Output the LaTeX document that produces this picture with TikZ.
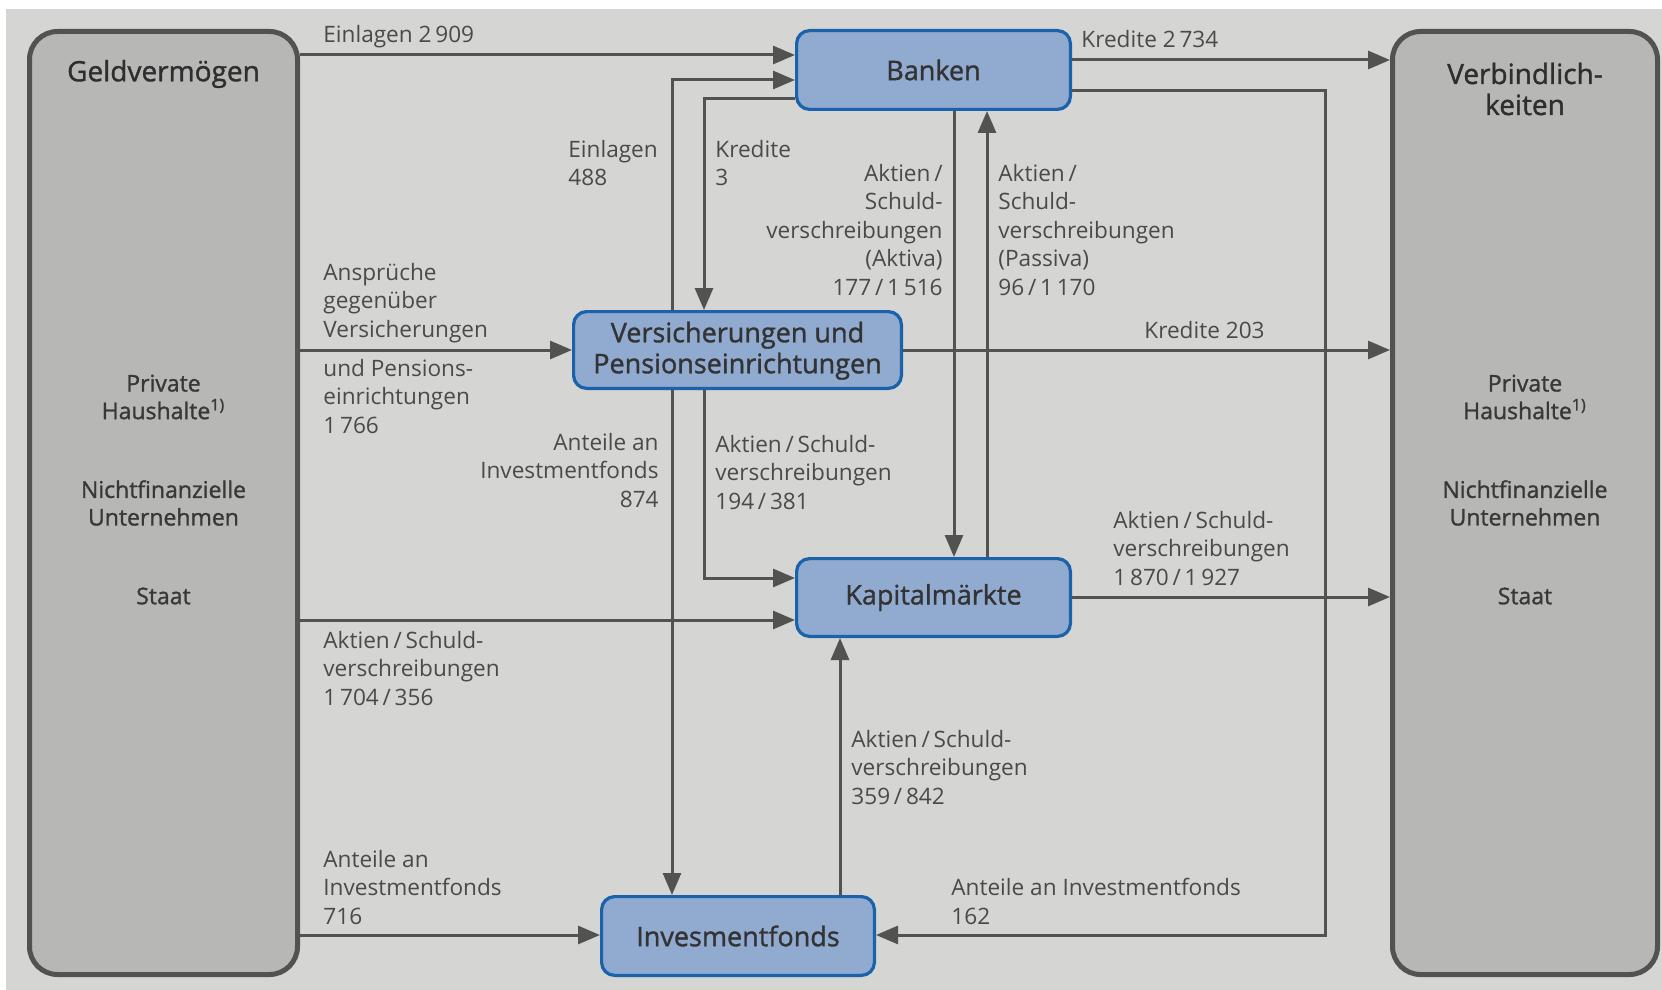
\documentclass[tikz,border=0pt]{standalone}
\usepackage{fontspec}
\setmainfont{Open Sans}
\newfontfamily\medfont{Open Sans}[FakeBold=1.2]
\usepackage{xcolor}
\usetikzlibrary{arrows.meta}
\definecolor{bggray}{HTML}{D5D5D3}
\definecolor{boxgray}{HTML}{B7B7B6}
\definecolor{linegray}{HTML}{525250}
\definecolor{boxblue}{HTML}{90AAD0}
\definecolor{edgeblue}{HTML}{1A62A9}
\definecolor{txtgray}{HTML}{4A4A4A}

\begin{document}
\begin{tikzpicture}[x=0.5pt,y=-0.5pt,
sektor/.style={draw=linegray,line width=2.5pt,fill=boxgray,rounded corners=14pt,
  minimum width=134pt,minimum height=471.5pt},
inst/.style={draw=edgeblue,line width=1.6pt,fill=boxblue,rounded corners=6.5pt,
  align=center,inner sep=2pt,text=black!80,font=\medfont\fontsize{13.5}{15.5}\selectfont},
titel/.style={align=center,text=black!82,font=\medfont\fontsize{14}{15.5}\selectfont},
gruppe/.style={align=center,text=black!78,font=\medfont\fontsize{11.5}{13.8}\selectfont},
lab/.style={inner sep=0pt,text=txtgray,font=\fontsize{11.3}{14.2}\selectfont},
flow/.style={draw=linegray,line width=1.5pt,-{Triangle[length=11pt,width=9pt]}}]
\useasboundingbox (0,0) rectangle (1662,990);
\fill[bggray] (6,9) rectangle (1662,990);
% Sektoren
\node[sektor] (geld) at (163.5,503) {};
\node[sektor,minimum width=132.5pt] (verb) at (1525,503) {};
\node[titel] (geldtitel) at (163.5,74) {Geldvermögen};
\node[titel] (verbtitel) at (1525,89) {Verbindlich-\\keiten};
\foreach \nx/\sx in {163.5/g,1525/v}{
  \node[gruppe] (ph\sx) at (\nx,397) {Private\\Haushalte\textsuperscript{1)}};
  \node[gruppe] (nfu\sx) at (\nx,503) {Nichtfinanzielle\\Unternehmen};
  \node[gruppe] (st\sx) at (\nx,596) {Staat};
}
% Institutionen
\node[inst,minimum width=136.9pt,minimum height=39.4pt] (banken) at (933.5,70) {Banken};
\node[inst,minimum width=163.9pt,minimum height=38.4pt,text depth=2.5pt] (vers) at (737.5,350)
  {Versicherungen und\\Pensionseinrichtungen};
\node[inst,minimum width=136.9pt,minimum height=38.9pt] (kapital) at (933.5,597.5) {Kapitalmärkte};
\node[inst,minimum width=136.4pt,minimum height=39.4pt] (invest) at (738,936) {Invesmentfonds};
% Ströme
\draw[flow] (geld.east |- 0,55) -- (banken.west |- 0,55);
\draw[flow] (banken.east |- 0,60) -- (verb.west |- 0,60);
\draw[flow] (banken.east |- 0,91) -| (1325,935) -- (invest.east |- 0,935);
\draw[flow] (vers.north -| 672,0) |- (banken.west |- 0,80);
\draw[flow] (banken.west |- 0,99) -| (vers.north -| 704,0);
\draw[flow] (vers.south -| 672,0) -- (invest.north -| 672,0);
\draw[flow] (banken.south -| 954,0) -- (kapital.north -| 954,0);
\draw[flow] (kapital.north -| 987,0) -- (banken.south -| 987,0);
\draw[flow] (geld.east |- 0,350) -- (vers.west |- 0,350);
\draw[flow] (vers.east |- 0,350) -- (verb.west |- 0,350);
\draw[flow] (vers.south -| 704,0) |- (kapital.west |- 0,578);
\draw[flow] (geld.east |- 0,620) -- (kapital.west |- 0,620);
\draw[flow] (kapital.east |- 0,597) -- (verb.west |- 0,597);
\draw[flow] (invest.north -| 840,0) -- (kapital.south -| 840,0);
\draw[flow] (geld.east |- 0,935) -- (invest.west |- 0,935);
% Beschriftungen
\node[lab,anchor=north west] (l1) at (323,25) {Einlagen 2\,909};
\node[lab,anchor=north west] (l2) at (1081,30) {Kredite 2\,734};
\node[lab,anchor=north west,align=left] (l3) at (568,140) {Einlagen\\488};
\node[lab,anchor=north west,align=left] (l4) at (715,140) {Kredite\\3};
\node[lab,anchor=north east,align=right] (l5) at (943,164)
  {Aktien\,/\\Schuld-\\verschreibungen\\(Aktiva)\\177\,/\,1\,516};
\node[lab,anchor=north west,align=left] (l6) at (998,164)
  {Aktien\,/\\Schuld-\\verschreibungen\\(Passiva)\\96\,/\,1\,170};
\node[lab,anchor=north west,align=left] (l7) at (323,263) {Ansprüche\\gegenüber\\Versicherungen};
\node[lab,anchor=north west,align=left] (l8) at (323,359) {und Pensions-\\einrichtungen\\1\,766};
\node[lab,anchor=north east] (l9) at (1265,321) {Kredite 203};
\node[lab,anchor=north east,align=right] (l10) at (659,433) {Anteile an\\Investmentfonds\\874};
\node[lab,anchor=north west,align=left] (l11) at (715,435)
  {Aktien\,/\,Schuld-\\verschreibungen\\194\,/\,381};
\node[lab,anchor=north west,align=left] (l12) at (1113,511)
  {Aktien\,/\,Schuld-\\verschreibungen\\1\,870\,/\,1\,927};
\node[lab,anchor=north west,align=left] (l13) at (323,631)
  {Aktien\,/\,Schuld-\\verschreibungen\\1\,704\,/\,356};
\node[lab,anchor=north west,align=left] (l14) at (851,730)
  {Aktien\,/\,Schuld-\\verschreibungen\\359\,/\,842};
\node[lab,anchor=north west,align=left] (l15) at (323,850) {Anteile an\\Investmentfonds\\716};
\node[lab,anchor=north west,align=left] (l16) at (951,878) {Anteile an Investmentfonds\\162};
\end{tikzpicture}
\end{document}
